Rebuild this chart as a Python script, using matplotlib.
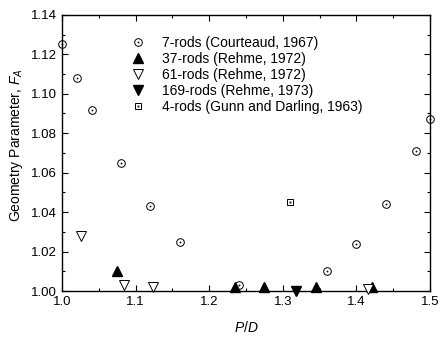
import matplotlib
matplotlib.use('Agg')
import matplotlib.pyplot as plt
from matplotlib.ticker import MultipleLocator
from matplotlib.legend_handler import HandlerTuple

plt.rcParams['font.family'] = ['Liberation Sans', 'DejaVu Sans']
plt.rcParams['mathtext.fontset'] = 'custom'
plt.rcParams['mathtext.it'] = 'Liberation Sans:italic'
plt.rcParams['mathtext.rm'] = 'Liberation Sans'

# 数据
pd7 = [1.000, 1.020, 1.041, 1.080, 1.120, 1.160, 1.240, 1.360, 1.400, 1.440, 1.481, 1.500]
fa7 = [1.125, 1.108, 1.092, 1.065, 1.043, 1.025, 1.003, 1.010, 1.024, 1.044, 1.071, 1.087]

pd37 = [1.075, 1.235, 1.275, 1.345, 1.421]
fa37 = [1.010, 1.002, 1.002, 1.002, 1.002]

pd61 = [1.026, 1.084, 1.124, 1.416]
fa61 = [1.028, 1.003, 1.002, 1.001]

pd169 = [1.318]
fa169 = [1.000]

pd4 = [1.310]
fa4 = [1.045]

fig = plt.figure(figsize=(4.4, 3.38), dpi=100)
ax = fig.add_axes([0.141, 0.139, 0.836, 0.817])

kw = dict(linestyle='none', clip_on=False, zorder=3)
h7a, = ax.plot(pd7, fa7, marker='o', ms=5.5, mfc='none', mec='black', mew=0.7, **kw)
h7b, = ax.plot(pd7, fa7, marker='o', ms=1.3, mfc='black', mec='black', mew=0, **kw)
h37, = ax.plot(pd37, fa37, marker='^', ms=6.5, mfc='black', mec='black', **kw)
h61, = ax.plot(pd61, fa61, marker='v', ms=6.5, mfc='white', mec='black', mew=0.7, **kw)
h169, = ax.plot(pd169, fa169, marker='v', ms=6.5, mfc='black', mec='black', **kw)
h4a, = ax.plot(pd4, fa4, marker='s', ms=5, mfc='none', mec='black', mew=0.7, **kw)
h4b, = ax.plot(pd4, fa4, marker='s', ms=1.3, mfc='black', mec='black', mew=0, **kw)

ax.set_xlim(1.0, 1.5)
ax.set_ylim(1.00, 1.14)
ax.xaxis.set_major_locator(MultipleLocator(0.1))
ax.xaxis.set_minor_locator(MultipleLocator(0.05))
ax.yaxis.set_major_locator(MultipleLocator(0.02))
ax.yaxis.set_minor_locator(MultipleLocator(0.01))
ax.xaxis.set_major_formatter(plt.FormatStrFormatter('%.1f'))
ax.yaxis.set_major_formatter(plt.FormatStrFormatter('%.2f'))
ax.tick_params(which='both', direction='in', top=True, right=True, labelsize=9.5, width=0.8)
ax.tick_params(which='major', length=4)
ax.tick_params(which='minor', length=2)
for s in ax.spines.values():
    s.set_linewidth(1.0)

ax.set_xlabel('$P/D$', fontsize=10, labelpad=9)
ax.set_ylabel('Geometry Parameter, $F_A$', fontsize=10, labelpad=7)
ax.yaxis.set_label_coords(-0.1, 0.53)

ax.legend([(h7a, h7b), h37, h61, h169, (h4a, h4b)],
          ['7-rods (Courteaud, 1967)', '37-rods (Rehme, 1972)', '61-rods (Rehme, 1972)',
           '169-rods (Rehme, 1973)', '4-rods (Gunn and Darling, 1963)'],
          handler_map={tuple: HandlerTuple(ndivide=1, pad=0)},
          loc='upper left', bbox_to_anchor=(0.173, 0.944), frameon=False, fontsize=10,
          handlelength=1.0, handletextpad=1.2, labelspacing=0.15, borderaxespad=0)

fig.savefig('out.png', dpi=100)
